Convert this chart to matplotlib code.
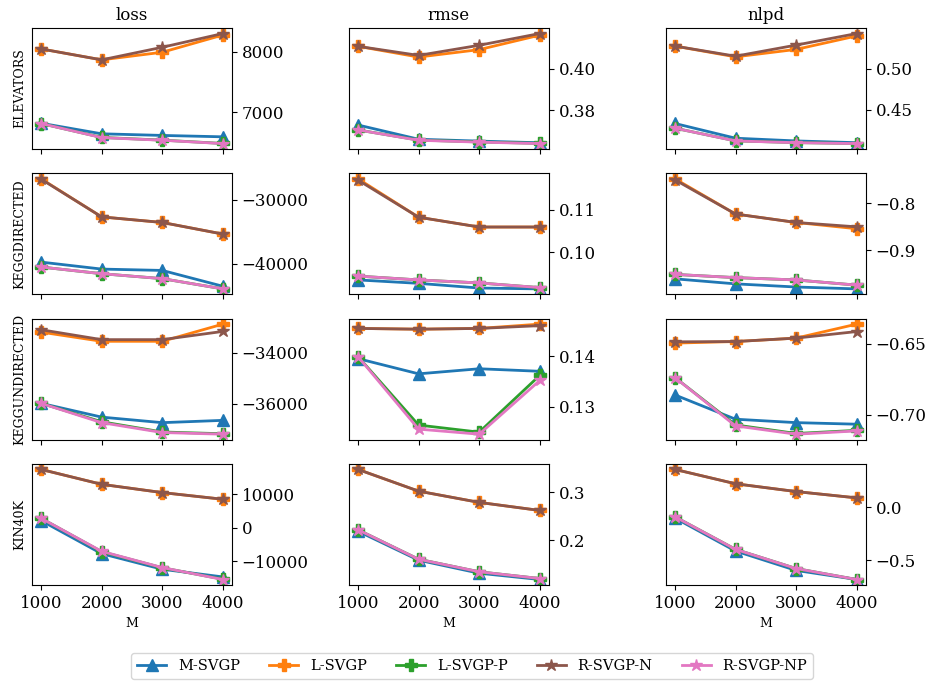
import numpy as np
import matplotlib
matplotlib.use("Agg")
import matplotlib.pyplot as plt

plt.rcParams['font.family'] = ['DejaVu Serif']

M = [1000, 2000, 3000, 4000]
datasets = ['ELEVATORS', 'KEGGDIRECTED', 'KEGGUNDIRECTED', 'KIN40K']
metrics = ['loss', 'rmse', 'nlpd']
methods = ['M-SVGP', 'L-SVGP', 'L-SVGP-P', 'R-SVGP-N', 'R-SVGP-NP']
colors = ['C0', 'C1', 'C2', 'C5', 'C6']
markers = ['^', 'P', 'P', '*', '*']

# values, order: M-SVGP, L-SVGP, L-SVGP-P, R-SVGP-N, R-SVGP-NP
elevators_loss = [[6815, 6640, 6613, 6590],
                  [8045, 7864, 7990, 8275],
                  [6810, 6580, 6535, 6480],
                  [8045, 7864, 8072, 8300],
                  [6810, 6577, 6533, 6478]]
elevators_rmse = [[0.3728, 0.3659, 0.3650, 0.3642],
                  [0.4109, 0.4057, 0.4093, 0.4163],
                  [0.3704, 0.3655, 0.3646, 0.3639],
                  [0.4109, 0.4065, 0.4114, 0.4171],
                  [0.3704, 0.3654, 0.3645, 0.3638]]
elevators_nlpd = [[0.4337, 0.4159, 0.4126, 0.4105],
                  [0.5272, 0.5142, 0.5232, 0.5395],
                  [0.4280, 0.4127, 0.4106, 0.4095],
                  [0.5272, 0.5150, 0.5284, 0.5424],
                  [0.4280, 0.4126, 0.4105, 0.4094]]

keggd_loss = [[-39740, -40830, -41040, -43510],
              [-26750, -32690, -33560, -35370],
              [-40510, -41550, -42320, -43920],
              [-26800, -32690, -33560, -35370],
              [-40510, -41550, -42320, -43920]]
keggd_rmse = [[0.0935, 0.0927, 0.0916, 0.0914],
              [0.1172, 0.1082, 0.1059, 0.1059],
              [0.0944, 0.0935, 0.0928, 0.0917],
              [0.1169, 0.1082, 0.1059, 0.1059],
              [0.0944, 0.0935, 0.0928, 0.0917]]
keggd_nlpd = [[-0.9606, -0.9713, -0.9780, -0.9820],
              [-0.7478, -0.8227, -0.8407, -0.8540],
              [-0.9512, -0.9580, -0.9630, -0.9740],
              [-0.7500, -0.8227, -0.8407, -0.8500],
              [-0.9512, -0.9580, -0.9630, -0.9740]]

keggu_loss = [[-35977, -36518, -36735, -36645],
              [-33187, -33547, -33547, -32874],
              [-35977, -36700, -37100, -37170],
              [-33094, -33482, -33482, -33160],
              [-35977, -36735, -37122, -37187]]
keggu_rmse = [[0.1395, 0.1365, 0.1375, 0.1370],
              [0.14545, 0.1453, 0.14545, 0.1463],
              [0.1399, 0.1264, 0.1250, 0.1362],
              [0.14545, 0.1453, 0.14545, 0.1460],
              [0.1399, 0.1256, 0.1246, 0.1352]]
keggu_nlpd = [[-0.6860, -0.7030, -0.7054, -0.7065],
              [-0.6497, -0.6486, -0.6462, -0.6364],
              [-0.6738, -0.7070, -0.7130, -0.7108],
              [-0.6488, -0.6486, -0.6462, -0.6416],
              [-0.6738, -0.7077, -0.7135, -0.7112]]

kin_loss = [[2160, -7700, -12340, -14620],
            [17400, 12960, 10500, 8510],
            [2850, -7100, -11900, -15300],
            [17400, 12960, 10500, 8510],
            [2850, -7000, -11840, -15390]]
kin_rmse = [[0.219, 0.159, 0.132, 0.119],
            [0.347, 0.302, 0.2787, 0.262],
            [0.222, 0.161, 0.135, 0.121],
            [0.347, 0.302, 0.2787, 0.262],
            [0.222, 0.161, 0.135, 0.121]]
kin_nlpd = [[-0.101, -0.414, -0.598, -0.684],
            [0.360, 0.224, 0.150, 0.090],
            [-0.089, -0.398, -0.580, -0.684],
            [0.360, 0.224, 0.150, 0.090],
            [-0.089, -0.398, -0.580, -0.684]]

table = [[elevators_loss, elevators_rmse, elevators_nlpd],
         [keggd_loss, keggd_rmse, keggd_nlpd],
         [keggu_loss, keggu_rmse, keggu_nlpd],
         [kin_loss, kin_rmse, kin_nlpd]]

fig, axes = plt.subplots(4, 3, figsize=(9.35, 6.88), dpi=100, sharex='col')
fig.subplots_adjust(left=0.0342, right=0.926, top=0.9593, bottom=0.1497,
                    wspace=0.585, hspace=0.2)

for r in range(4):
    for c in range(3):
        ax = axes[r, c]
        for k in range(len(methods)):
            ax.plot(M, table[r][c][k], color=colors[k], marker=markers[k],
                    markersize=9, linewidth=2, label=methods[k])
        ax.yaxis.tick_right()
        ax.tick_params(labelsize=12)
        ax.set_xticks(M)
        if c == 0:
            ax.set_ylabel(datasets[r], fontsize=9)
        if r == 0:
            ax.set_title(metrics[c], fontsize=12)
        if r == 3:
            ax.set_xlabel('M', fontsize=9)

handles, labels = axes[0, 0].get_legend_handles_labels()
fig.legend(handles, labels, loc='lower center', ncol=5, fontsize=10.5,
           bbox_to_anchor=(0.505, 0.003))

fig.savefig('out.png')
